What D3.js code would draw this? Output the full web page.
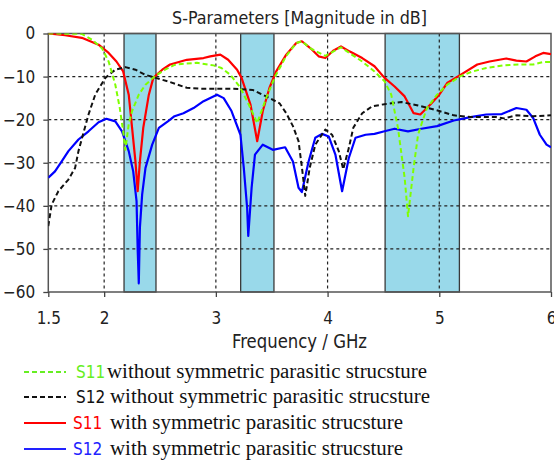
<!DOCTYPE html>
<html><head><meta charset="utf-8">
<script src="https://cdn.jsdelivr.net/npm/d3@7"></script>
<style>
html,body{margin:0;padding:0;background:#fff;}
svg{display:block;}
.sans{font-family:"DejaVu Sans Condensed","DejaVu Sans",sans-serif;font-stretch:condensed;}
.serif{font-family:"Liberation Serif","Times New Roman",serif;}
</style>
</head><body>
<svg id="c" width="554" height="462"></svg>
<script>
// ---- data ----
const title = "S-Parameters [Magnitude in dB]";
const xLabel = "Frequency / GHz";
const xTicks = [1.5, 2, 3, 4, 5, 6];
const yTicks = [0, -10, -20, -30, -40, -50, -60];
const bands = [[2.178, 2.464], [3.222, 3.52], [4.515, 5.18]];

const s11WithoutF = [1.5,1.8,1.89,1.98,2.04,2.10,2.14,2.17,2.19,2.22,2.25,2.31,2.37,2.455,2.545,2.63,2.71,2.83,2.98,3.05,3.13,3.22,3.31,3.37,3.45,3.53,3.63,3.72,3.77,3.85,3.98,4.05,4.12,4.2,4.31,4.42,4.51,4.57,4.63,4.69,4.72,4.77,4.81,4.85,4.89,4.98,5.07,5.19,5.30,5.42,5.57,5.72,5.84,5.93,6.0];
const s11WithoutV = [0,-0.1,-1.4,-3.4,-6.5,-11.9,-17.3,-22.7,-27,-21,-18,-14.2,-11.9,-9.9,-8.4,-7.3,-7.0,-6.8,-7.4,-8.0,-9.6,-12.6,-17.3,-20.8,-15,-10,-5.2,-2.2,-1.8,-3.5,-5.2,-4.2,-3.2,-4.6,-6.5,-8.8,-11.1,-14.2,-21.9,-33.5,-42.4,-31.2,-23.5,-20.3,-17.3,-14.2,-11.9,-9.9,-8.8,-8.0,-7.4,-7.2,-7.2,-6.6,-6.6];

const s12WithoutF = [1.5,1.53,1.59,1.68,1.74,1.77,1.81,1.86,1.92,2.01,2.10,2.19,2.28,2.37,2.46,2.57,2.74,2.86,3.16,3.33,3.45,3.57,3.63,3.69,3.74,3.77,3.80,3.84,3.89,3.98,4.04,4.10,4.14,4.19,4.23,4.31,4.40,4.51,4.66,4.81,4.90,5.0,5.13,5.28,5.51,5.58,5.69,5.84,6.0];
const s12WithoutV = [-44.7,-39.7,-36.6,-33.9,-31.2,-27.3,-23.5,-18.8,-14.2,-10.3,-8.4,-7.8,-8.4,-9.6,-10.3,-11.1,-12.6,-12.8,-12.8,-13.1,-14.6,-16.2,-18.5,-21.5,-25,-31,-37.7,-31.2,-25.8,-22.3,-23.5,-27.3,-31.5,-26.6,-21.9,-18.5,-16.9,-16.4,-15.9,-16.7,-17.3,-18,-19,-19.4,-19.4,-19.7,-19,-19.2,-19];

const s11WithF = [1.5,1.65,1.8,1.95,2.04,2.11,2.17,2.22,2.25,2.28,2.30,2.32,2.35,2.40,2.44,2.52,2.59,2.74,2.89,2.95,3.04,3.11,3.19,3.23,3.31,3.37,3.42,3.48,3.54,3.63,3.72,3.77,3.85,3.92,3.98,4.05,4.12,4.2,4.31,4.42,4.51,4.60,4.69,4.77,4.83,4.92,5.0,5.07,5.19,5.34,5.45,5.60,5.69,5.78,5.86,5.93,6.0];
const s11WithV = [0,-0.4,-1.0,-2.6,-4.5,-6.5,-8.8,-14.2,-21.9,-29.7,-36.6,-29.7,-21.9,-14.2,-10.3,-8.4,-7.2,-6.1,-5.7,-5.3,-4.9,-6.1,-8.4,-10.3,-16.5,-25,-18,-12.6,-8.8,-4.9,-2.2,-1.8,-3.5,-5.3,-5.7,-4.0,-3.0,-4.2,-5.7,-7.6,-10.3,-12.3,-14.6,-18.5,-18.8,-16.5,-14.2,-11.5,-9.6,-7.2,-6.5,-5.8,-6.3,-6.5,-5.3,-4.5,-4.8];

const s12WithF = [1.5,1.56,1.62,1.68,1.77,1.86,1.95,2.02,2.10,2.16,2.22,2.26,2.29,2.30,2.31,2.32,2.34,2.37,2.43,2.49,2.57,2.63,2.71,2.80,2.89,3.01,3.07,3.14,3.22,3.25,3.28,3.29,3.32,3.35,3.42,3.51,3.62,3.69,3.74,3.77,3.83,3.89,3.95,4.01,4.07,4.13,4.19,4.25,4.34,4.42,4.51,4.60,4.72,4.84,4.98,5.13,5.28,5.42,5.56,5.69,5.78,5.84,5.90,5.96,6.0];
const s12WithV = [-33.5,-32,-29.7,-27.3,-24.6,-22.7,-20.6,-19.8,-20.4,-22.7,-27.3,-32,-38.9,-50,-58,-45,-37.4,-31.2,-25.8,-21.9,-20.4,-19.2,-18.5,-17.3,-15.7,-14.2,-15,-18,-23.5,-31.2,-40.5,-47,-35.8,-28.1,-25.8,-27,-26.4,-29.7,-35.8,-36.8,-29.7,-24.2,-23.3,-23.9,-28.1,-36.6,-28.9,-24.2,-23.5,-23.3,-22.7,-22.1,-22.7,-22.1,-21.5,-20.2,-19.4,-18.8,-18.7,-17.3,-17.7,-19.6,-23.5,-25.8,-26.4];

const seriesNames = ["S11","S12","S11","S12"];
const seriesDesc = ["without symmetric parasitic strucsture","without symmetric parasitic strucsture","with symmetric parasitic strucsture","with symmetric parasitic strucsture"];

// ---- chart ----
const svg = d3.select("#c");
const L = 48.3, R = 551, T = 33.5, B = 292;
const x = d3.scaleLinear().domain([1.5, 6]).range([L, R]);
const y = d3.scaleLinear().domain([0, -60]).range([T, B]);

svg.append("defs").append("clipPath").attr("id","clip")
  .append("rect").attr("x",L).attr("y",T).attr("width",R-L).attr("height",B-T);

// bands
svg.append("g").selectAll("rect").data(bands).join("rect")
  .attr("x", d => x(d[0])).attr("y", T)
  .attr("width", d => x(d[1]) - x(d[0])).attr("height", B - T)
  .attr("fill", "#99d9ea").attr("stroke", "#3a3a3a").attr("stroke-width", 1.3);

// grid
const grid = svg.append("g").attr("stroke", "#222").attr("stroke-width", 1.2).attr("stroke-dasharray", "3,3");
grid.selectAll(".gx").data(xTicks.filter(t => t > 1.5 && t < 6)).join("line")
  .attr("x1", d => x(d)).attr("x2", d => x(d)).attr("y1", T).attr("y2", B);
grid.selectAll(".gy").data(yTicks.filter(t => t < 0 && t > -60)).join("line")
  .attr("x1", L).attr("x2", R).attr("y1", d => y(d)).attr("y2", d => y(d));

// frame
svg.append("rect").attr("x", L).attr("y", T).attr("width", R - L).attr("height", B - T)
  .attr("fill", "none").attr("stroke", "#555").attr("stroke-width", 1.5);

// axes
const xAxis = d3.axisBottom(x).tickValues(xTicks).tickFormat(d3.format("")).tickSize(5).tickPadding(15);
const yAxis = d3.axisLeft(y).tickValues(yTicks).tickFormat(d3.format("")).tickSize(5).tickPadding(8);
const gx = svg.append("g").attr("transform", `translate(0,${B})`).call(xAxis);
const gy = svg.append("g").attr("transform", `translate(${L},0)`).call(yAxis);
[gx, gy].forEach(g => {
  g.select(".domain").remove();
  g.selectAll(".tick line").attr("stroke", "#444").attr("stroke-width", 1.3);
  g.selectAll(".tick text").attr("class", "sans").attr("font-size", 17).attr("fill", "#222");
});

// lines
const line = d3.line().x(d => x(d[0])).y(d => y(d[1]));
const zip = (f, v) => f.map((ff, i) => [ff, v[i]]);
const lines = svg.append("g").attr("clip-path", "url(#clip)").attr("fill", "none")
  .attr("stroke-linejoin", "round");
lines.append("path").datum(zip(s12WithF, s12WithV)).attr("d", line).attr("stroke", "#0000ff").attr("stroke-width", 2.2);
lines.append("path").datum(zip(s11WithF, s11WithV)).attr("d", line).attr("stroke", "#ff0000").attr("stroke-width", 2.2);
lines.append("path").datum(zip(s12WithoutF, s12WithoutV)).attr("d", line).attr("stroke", "#111").attr("stroke-width", 2).attr("stroke-dasharray", "5,3");
lines.append("path").datum(zip(s11WithoutF, s11WithoutV)).attr("d", line).attr("stroke", "#7fff00").attr("stroke-width", 2).attr("stroke-dasharray", "5,3");

// title & x label
svg.append("text").attr("class", "sans").attr("x", 172).attr("y", 24)
  .attr("font-size", 18.5).attr("fill", "#222")
  .attr("textLength", 255).attr("lengthAdjust", "spacingAndGlyphs").text(title);
svg.append("text").attr("class", "sans").attr("x", 232).attr("y", 348)
  .attr("font-size", 19.5).attr("fill", "#222")
  .attr("textLength", 135).attr("lengthAdjust", "spacingAndGlyphs").text(xLabel);

// legend
const legColors = ["#66ee22", "#111", "#ff0000", "#2222ff"];
const legDash = ["5,3", "5,3", null, null];
const legY = [372, 397, 423, 449];
const descX = [107, 110, 110, 110];
const descLen = [320, 320, 293, 293];
const leg = svg.append("g");
seriesNames.forEach((n, i) => {
  leg.append("line").attr("x1", 24).attr("x2", 66).attr("y1", legY[i]).attr("y2", legY[i])
    .attr("stroke", legColors[i]).attr("stroke-width", 2).attr("stroke-dasharray", legDash[i]);
  const sx = i < 2 ? 76 : 73;
  leg.append("text").attr("class", "sans").attr("x", sx).attr("y", legY[i] + 6)
    .attr("font-size", 17).attr("fill", legColors[i]).text(n);
  leg.append("text").attr("class", "serif").attr("x", descX[i]).attr("y", legY[i] + 6)
    .attr("font-size", 20).attr("fill", "#111")
    .attr("textLength", descLen[i]).attr("lengthAdjust", "spacingAndGlyphs").text(seriesDesc[i]);
});
</script>
</body></html>
